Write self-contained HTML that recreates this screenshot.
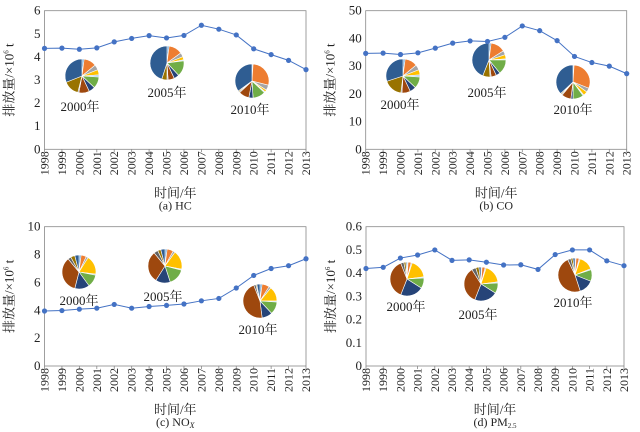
<!DOCTYPE html>
<html><head><meta charset="utf-8">
<style>
html,body{margin:0;padding:0;background:#fff;}
svg{display:block;}
svg text{font-family:"Liberation Serif","Noto Serif CJK SC",serif;}
</style></head>
<body>
<svg id="chart" width="640" height="432" viewBox="0 0 640 432"></svg>
<script>
const years = [1998,1999,2000,2001,2002,2003,2004,2005,2006,2007,2008,2009,2010,2011,2012,2013];
const hcValues = [4.37,4.38,4.33,4.39,4.65,4.80,4.92,4.82,4.93,5.37,5.20,4.95,4.35,4.10,3.85,3.45];
const coValues = [34.6,34.7,34.2,34.8,36.5,38.3,39.1,38.9,40.4,44.5,42.8,39.2,33.5,31.3,30.0,27.3];
const noxValues = [3.95,3.98,4.08,4.15,4.42,4.15,4.27,4.35,4.45,4.68,4.85,5.60,6.50,7.00,7.20,7.70];
const pmValues = [0.420,0.425,0.465,0.478,0.500,0.455,0.457,0.447,0.435,0.436,0.416,0.480,0.500,0.500,0.453,0.432];
const hcTicks = [0,1,2,3,4,5,6];
const coTicks = [0,10,20,30,40,50];
const noxTicks = [0,2,4,6,8,10];
const pmTicks = [0,0.1,0.2,0.3,0.4,0.5,0.6];
const pieYears = ["2000年","2005年","2010年"];
const hcShares = [[2,12,5,5,2,11,6,10,1,15,31],[2,13,4,3,1,15,5,6,1,5,45],[1,28,5,2,1,12,4,10,1,1,35]];
const coShares = [[2,12,5,5,2,11,6,8,1,18,30],[2,14,4,4,1,14,4,5,1,7,44],[1,30,4,4,1,10,2,9,1,1,37]];
const noxShares = [[2,5,2,18,1,12,14,35,3,4,4],[2,6,2,18,1,16,14,30,4,3,4],[2,7,2,14,1,12,10,46,2,1,3]];
const pmShares = [[1,3,1,18,1,10,22,38,3,2,1],[1,3,1,18,1,10,22,35,4,3,2],[1,3,1,14,1,11,14,48,3,2,2]];
const pieColors = ["#5B9BD5","#ED7D31","#A5A5A5","#FFC000","#9DC3E6","#70AD47","#264478","#9E480E","#636363","#997300","#2F5D92"];

const NS="http://www.w3.org/2000/svg";
const FONT='"Liberation Serif","Noto Serif CJK SC",serif';
const svg=document.getElementById('chart');
function el(tag,attrs,parent,text){const e=document.createElementNS(NS,tag);for(const k in attrs)e.setAttribute(k,attrs[k]);if(tag==='text')e.setAttribute('font-family',FONT);if(text!==undefined)e.textContent=text;(parent||svg).appendChild(e);return e;}

function panel(p){
  const g=el('g',{});
  
  
  const tmax=p.ticks[p.ticks.length-1];
  const xs=i=>p.L+(p.R-p.L)*i/(years.length-1);
  const ys=v=>p.B-(p.B-p.T)*v/tmax;
  const frame=el('rect',{x:p.L,y:p.T,width:p.R-p.L,height:p.B-p.T,fill:'none',stroke:'#888','stroke-width':0.8},g);
  
  
  p.ticks.forEach(t=>{
    const tl=el('text',{x:p.L-4,y:ys(t)+4,'font-size':13,'text-anchor':'end',fill:'#222'},g,String(t));
    
    
  });
  years.forEach((yr,i)=>{
    el('line',{x1:xs(i),x2:xs(i),y1:p.B,y2:p.B+3,stroke:'#888','stroke-width':0.8},g);
    const tl=el('text',{x:0,y:0,'font-size':12,'text-anchor':'end',fill:'#222',transform:`translate(${xs(i)+4},${p.B+2}) rotate(-90)`},g,String(yr));
    
    
  });
  const cx=(p.L+p.R)/2;
  const xt=el('text',{x:cx,y:p.B+48,'font-size':13,'text-anchor':'middle',fill:'#222'},g,'时间/年');
  
  
  const cap=el('text',{x:cx,y:p.B+60,'font-size':12,'text-anchor':'middle',fill:'#222'},g);
  cap.innerHTML=p.caption;
  
  
  const yt=el('text',{x:0,y:0,'font-size':13,'text-anchor':'middle',fill:'#222',transform:`translate(${p.L-31},${(p.T+p.B)/2}) rotate(-90)`},g);
  yt.innerHTML='排放量/×10<tspan font-size="7" dy="-5">6</tspan><tspan dy="5"> t</tspan>';
  
  
  p.shares.forEach((sh,k)=>{
    const [pcx,pcy]=p.pies[k];const r=17;
    const tot=sh.reduce((a,b)=>a+b,0);let a0=-Math.PI/2;
    const pg=el('g',{},g);
    
    
    sh.forEach((v,j)=>{
      const a1=a0+2*Math.PI*v/tot;
      const large=(a1-a0)>Math.PI?1:0;
      const d=`M${pcx},${pcy} L${pcx+r*Math.cos(a0)},${pcy+r*Math.sin(a0)} A${r},${r} 0 ${large} 1 ${pcx+r*Math.cos(a1)},${pcy+r*Math.sin(a1)} Z`;
      const s=el('path',{d:d,fill:pieColors[j],stroke:'#fff','stroke-width':0.6},pg);
      
      
      a0=a1;
    });
    const lab=el('text',{x:p.labels[k][0],y:p.labels[k][1]+5,'font-size':13,'text-anchor':'middle',fill:'#222'},g,pieYears[k]);
    
    
  });
  const pts=p.values.map((v,i)=>xs(i)+','+ys(v)).join(' ');
  const ln=el('polyline',{points:pts,fill:'none',stroke:'#4472C4','stroke-width':1},g);
  
  
  p.values.forEach((v,i)=>{
    const c=el('circle',{cx:xs(i),cy:ys(v),r:2.6,fill:'#4472C4'},g);
    
    
  });
}
panel({name:'panel-hc',L:44.5,R:306,T:10.7,B:149.3,ticks:hcTicks,values:hcValues,shares:hcShares,
  pies:[[82,76],[167,63],[252,81]],labels:[[80,106],[167,92],[250,109]],caption:'(a)  HC'});
panel({name:'panel-co',L:365.7,R:626.7,T:10.7,B:149.3,ticks:coTicks,values:coValues,shares:coShares,
  pies:[[403,76],[489,60],[573,82]],labels:[[400,104],[487,92],[573,109]],caption:'(b)  CO'});
panel({name:'panel-nox',L:44.5,R:306,T:226.7,B:366,ticks:noxTicks,values:noxValues,shares:noxShares,
  pies:[[79,272],[165,266],[260,301]],labels:[[79,300],[163,296],[258,329]],caption:'(c)  NO<tspan font-size="8" font-style="italic" dy="2">X</tspan>'});
panel({name:'panel-pm25',L:366,R:624,T:226.7,B:366,ticks:pmTicks,values:pmValues,shares:pmShares,
  pies:[[407,279],[481,284],[575,275]],labels:[[406,306],[478,314],[573,302]],caption:'(d)  PM<tspan font-size="7" dy="2">2.5</tspan>'});
</script>
</body></html>
